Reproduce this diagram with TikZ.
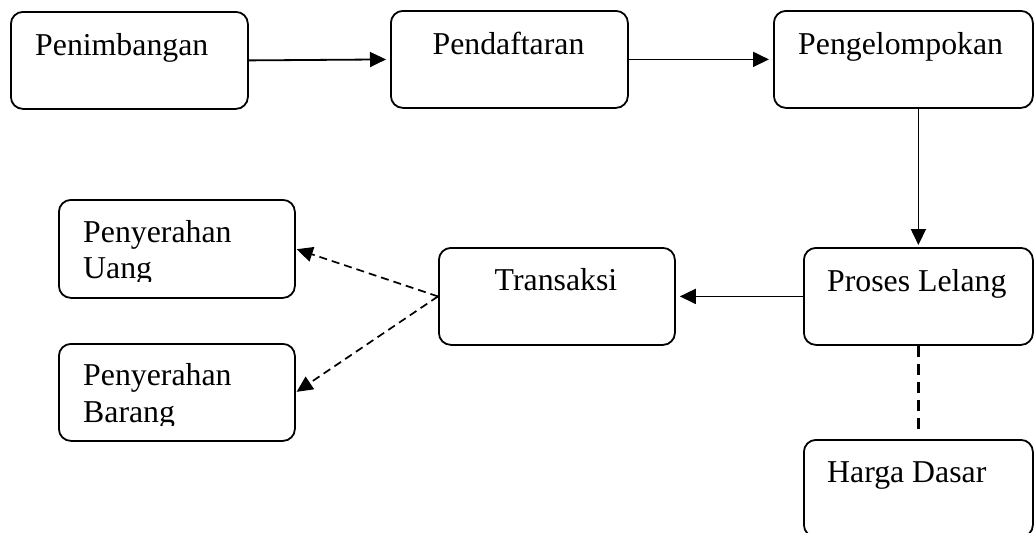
\documentclass[tikz,border=0pt]{standalone}
\usepackage{fontspec}
\setmainfont{Liberation Serif}
\usetikzlibrary{arrows.meta}
\begin{document}
\begin{tikzpicture}[x=1pt,y=-1pt,
  box/.style={draw, line width=1.8pt, rounded corners=12pt, anchor=north west, inner sep=0pt, minimum height=97pt},
  lbl/.style={inner sep=0pt, anchor=base west, font=\fontsize{31.8}{36}\selectfont},
  clbl/.style={inner sep=0pt, anchor=base, font=\fontsize{31.8}{36}\selectfont},
  flow/.style={line width=1.8pt, -{Triangle[length=16pt,width=15pt]}, shorten >=4pt},
  dflow/.style={line width=1.7pt, dash pattern=on 8pt off 5pt, -{Triangle[length=16pt,width=15pt]}, shorten >=1pt},
  link/.style={line width=3pt, dash pattern=on 11pt off 7pt, shorten >=10pt}
]
\useasboundingbox (0,0) rectangle (1034,533);
% boxes
\node[box, minimum width=237pt] (pen) at (10,11) {};
\node[box, minimum width=237pt] (pend) at (390,10) {};
\node[box, minimum width=259pt] (pengel) at (773,10) {};
\node[box, minimum width=229pt] (proses) at (803,247) {};
\node[box, minimum width=236pt] (trans) at (438,247) {};
\node[box, minimum width=236pt, minimum height=98pt] (uang) at (58,199) {};
\node[box, minimum width=236pt] (barang) at (58,343) {};
\node[box, minimum width=229pt] (harga) at (803,439) {};
% texts
\node[lbl] (tpen) at (35,55) {Penimbangan};
\node[clbl] (tpend) at (508.5,54) {Pendaftaran};
\node[lbl] (tpengel) at (798,54) {Pengelompokan};
\node[lbl] (tproses) at (827,291) {Proses Lelang};
\node[clbl] (ttrans) at (556,290) {Transaksi};
\node[lbl] (tharga) at (827,482) {Harga Dasar};
\begin{scope}
  \clip (58,199) rectangle (294,281);
  \node[lbl] (tuang1) at (83,242) {Penyerahan};
  \node[lbl] (tuang2) at (83,278) {Uang};
\end{scope}
\begin{scope}
  \clip (58,343) rectangle (294,425);
  \node[lbl] (tbar1) at (83,385) {Penyerahan};
  \node[lbl] (tbar2) at (83,422) {Barang};
\end{scope}
% connectors
\draw[flow] (pen.east) -- (pend.west);
\draw[flow] (pend.east) -- (pengel.west);
\draw[flow, shorten >=2pt] (pengel.south -| proses.north) -- (proses.north);
\draw[flow] (proses.west) -- (trans.east);
\draw[dflow] (trans.west) -- (uang.east);
\draw[dflow] (trans.west) -- (barang.east);
\draw[link] (proses.south) -- (harga.north);
\end{tikzpicture}
\end{document}
